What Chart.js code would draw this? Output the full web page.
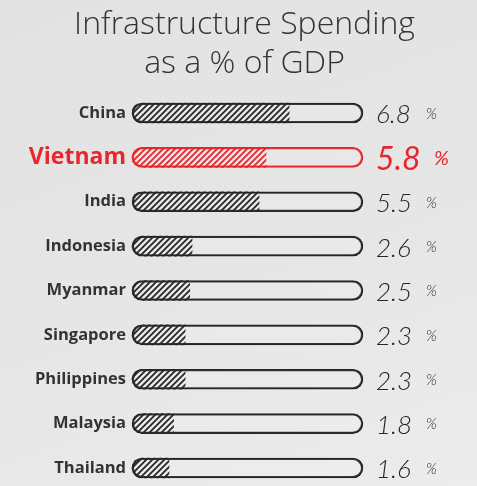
<!DOCTYPE html>
<html>
<head>
<meta charset="utf-8">
<script src="https://cdn.jsdelivr.net/npm/chart.js@4/dist/chart.umd.min.js"></script>
<style>
  html, body { margin: 0; padding: 0; }
  body {
    width: 477px; height: 486px; overflow: hidden;
    background: linear-gradient(160deg, #e2e2e2 0%, #e6e6e6 55%, #ececec 100%);
  }
  #wrap { position: relative; width: 477px; height: 486px; }
  #title {
    position: absolute; left: 12px; right: 0; top: 2px;
    margin: 0; text-align: center;
    font: 300 32px/39px 'Open Sans', sans-serif; color: #333;
  }
</style>
</head>
<body>
<div id="wrap">
  <h1 id="title">Infrastructure Spending<br>as a % of GDP</h1>
  <canvas id="spendChart"></canvas>
</div>
<script>
// infrastructure spending, % of GDP
const countries = ['China', 'Vietnam', 'India', 'Indonesia', 'Myanmar', 'Singapore', 'Philippines', 'Malaysia', 'Thailand'];
const spending  = [6.8, 5.8, 5.5, 2.6, 2.5, 2.3, 2.3, 1.8, 1.6];
const trackFull = [10, 10, 10, 10, 10, 10, 10, 10, 10];
const focusCountry = 'Vietnam';

const INK = '#262626';
const RED = '#e8262c';
const focusIdx = countries.indexOf(focusCountry);

// diagonal pen-stroke hatch
function makeHatch(color) {
    const c = document.createElement('canvas');
    c.width = 6; c.height = 6;
    const g = c.getContext('2d');
    g.strokeStyle = color;
    g.lineWidth = 1.8;
    g.lineCap = 'square';
    g.beginPath();
    g.moveTo(0, 6); g.lineTo(6, 0);
    g.moveTo(-3, 3); g.lineTo(3, -3);
    g.moveTo(3, 9); g.lineTo(9, 3);
    g.stroke();
    return g.createPattern(c, 'repeat');
}
const hatchInk = makeHatch(INK);
const hatchRed = makeHatch(RED);

// hand-written style value at the end of each track
const valueLabels = {
    id: 'valueLabels',
    afterDatasetsDraw(chart) {
        const { ctx, chartArea, scales } = chart;
        ctx.save();
        ctx.textBaseline = 'middle';
        ctx.textAlign = 'left';
        spending.forEach((v, i) => {
            const y = scales.y.getPixelForValue(i) + 2;
            const x = chartArea.right + 13;
            const hot = i === focusIdx;
            ctx.fillStyle = hot ? RED : INK;
            ctx.font = hot ? 'italic 400 32px Lato' : 'italic 300 26px Lato';
            ctx.fillText(v.toFixed(1), x, y);
            ctx.font = hot ? 'italic 400 20px Lato' : 'italic 300 15px Lato';
            ctx.fillText('%', x + (hot ? 58 : 50), y - 1);
        });
        ctx.restore();
    }
};

const ctx = document.getElementById('spendChart').getContext('2d');
new Chart(ctx, {
    type: 'bar',
    data: {
        labels: countries,
        datasets: [{
            data: spending,
            backgroundColor: (c) => c.dataIndex === focusIdx ? hatchRed : hatchInk,
            borderWidth: 0,
            borderRadius: { topLeft: 10, bottomLeft: 10, topRight: 0, bottomRight: 0 },
            borderSkipped: false,
            barThickness: 20,
            grouped: false,
            clip: false
        }, {
            data: trackFull,
            backgroundColor: 'rgba(255,255,255,0.12)',
            borderColor: (c) => c.dataIndex === focusIdx ? RED : INK,
            borderWidth: 1.6,
            borderRadius: 10,
            borderSkipped: false,
            barThickness: 20,
            grouped: false,
            clip: false
        }]
    },
    plugins: [valueLabels],
    options: {
        indexAxis: 'y',
        responsive: true,
        maintainAspectRatio: false,
        animation: false,
        layout: { padding: { left: 12, right: 114, top: 113, bottom: 18 } },
        plugins: {
            legend: { display: false },
            tooltip: { enabled: false }
        },
        scales: {
            x: { display: false, min: 0, max: 10 },
            y: {
                offset: false,
                grid: { display: false, drawTicks: false },
                border: { display: false },
                afterFit: (scale) => { scale.width = 120; },
                ticks: {
                    padding: 6,
                    color: (c) => c.index === focusIdx ? RED : '#333',
                    font: (c) => c.index === focusIdx
                        ? { family: 'Open Sans', weight: 700, size: 23 }
                        : { family: 'Open Sans', weight: 700, size: 16.5 }
                }
            }
        }
    }
});
</script>
</body>
</html>
